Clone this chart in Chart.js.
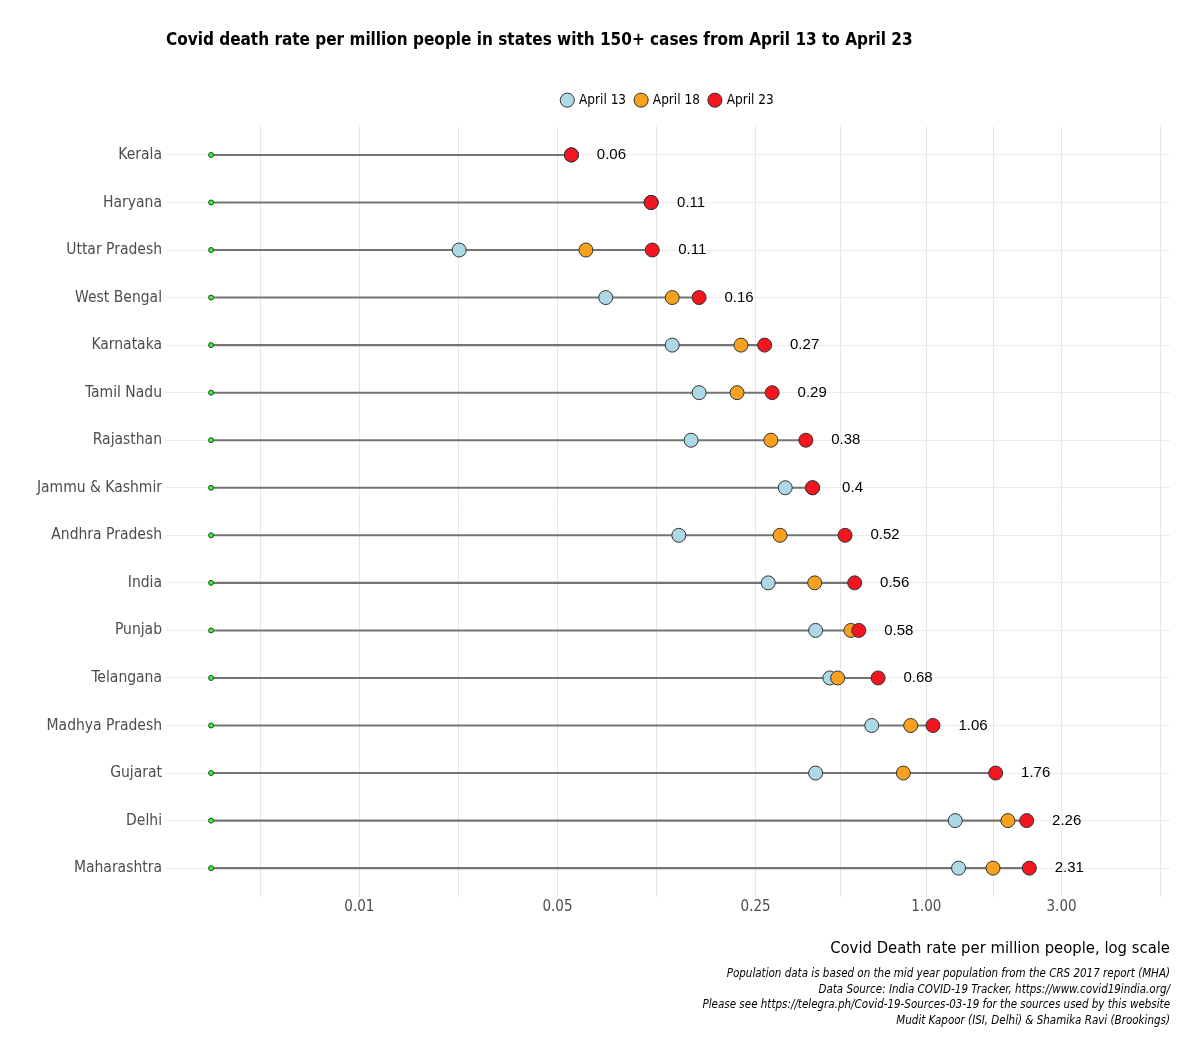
<!DOCTYPE html>
<html>
<head>
<meta charset="utf-8">
<script src="https://cdn.jsdelivr.net/npm/chart.js@4.4.1/dist/chart.umd.min.js"></script>
<style>
  html, body { margin: 0; padding: 0; background: #fff; }
  canvas { display: block; }
</style>
</head>
<body>
<canvas id="chart" width="1200" height="1057"></canvas>
<script>
const states = ['Kerala', 'Haryana', 'Uttar Pradesh', 'West Bengal', 'Karnataka', 'Tamil Nadu', 'Rajasthan',
  'Jammu & Kashmir', 'Andhra Pradesh', 'India', 'Punjab', 'Telangana', 'Madhya Pradesh', 'Gujarat', 'Delhi', 'Maharashtra'];
const april13 = [0.056, 0.107, 0.0225, 0.074, 0.127, 0.158, 0.148, 0.318, 0.134, 0.277, 0.407, 0.457, 0.642, 0.407, 1.265, 1.30];
const april18 = [0.056, 0.107, 0.063, 0.127, 0.222, 0.215, 0.283, 0.397, 0.305, 0.404, 0.542, 0.487, 0.881, 0.830, 1.94, 1.72];
const april23 = [0.056, 0.107, 0.108, 0.158, 0.269, 0.286, 0.376, 0.397, 0.517, 0.559, 0.578, 0.676, 1.056, 1.757, 2.26, 2.31];
const baseline = 0.003;   // where every segment starts (green dot)

const majorTicks = [0.01, 0.05, 0.25, 1, 3];
const majorTickLabels = ['0.01', '0.05', '0.25', '1.00', '3.00'];
const minorTicks = [0.00447, 0.0224, 0.112, 0.5, 1.73, 6.71];

const captionLines = [
  'Population data is based on the mid year population from the CRS 2017 report (MHA)',
  'Data Source: India COVID-19 Tracker, https://www.covid19india.org/',
  'Please see https://telegra.ph/Covid-19-Sources-03-19 for the sources used by this website',
  'Mudit Kapoor (ISI, Delhi) & Shamika Ravi (Brookings)'
];

const narrow = "'Liberation Sans Narrow', 'DejaVu Sans Condensed', Roboto, sans-serif";

// value labels to the right of the April 23 dot
const valueLabels = {
  id: 'valueLabels',
  afterDatasetsDraw(chart) {
    const meta = chart.getDatasetMeta(2);
    const ctx = chart.ctx;
    ctx.save();
    ctx.font = "15px 'Liberation Sans', Arial, sans-serif";
    ctx.fillStyle = '#000';
    ctx.textAlign = 'center';
    ctx.textBaseline = 'middle';
    meta.data.forEach((pt, i) => {
      ctx.fillText(String(Math.round(april23[i] * 100) / 100), pt.x + 40, pt.y);
    });
    ctx.restore();
  }
};

// a bit of room between the legend and the panel
const legendGap = {
  id: 'legendGap',
  beforeLayout(chart) {
    const lg = chart.legend;
    if (lg && !lg._gapPatched) {
      const fit = lg.fit;
      lg.fit = function () { fit.call(this); this.height += 9.5; };
      lg._gapPatched = true;
    }
  }
};

const pointStyle = { borderColor: '#333333', borderWidth: 1, pointRadius: 7 };

new Chart(document.getElementById('chart'), {
  type: 'scatter',
  data: {
    datasets: [
      { label: 'April 13', data: april13.map((v, i) => ({ x: v, y: i })), backgroundColor: '#add8e6', order: 3, ...pointStyle },
      { label: 'April 18', data: april18.map((v, i) => ({ x: v, y: i })), backgroundColor: '#f8a11f', order: 2, ...pointStyle },
      { label: 'April 23', data: april23.map((v, i) => ({ x: v, y: i })), backgroundColor: '#f3161f', order: 1, ...pointStyle },
      {
        label: 'start', data: states.map((s, i) => ({ x: baseline, y: i })),
        backgroundColor: '#3cf03c', borderColor: '#1b4d1b', borderWidth: 1, pointRadius: 2.5, order: 4
      },
      {
        type: 'bar', label: 'range', indexAxis: 'y',
        data: april23.map((v, i) => ({ y: i, x: [baseline, v] })),
        backgroundColor: '#747474', borderWidth: 0, barThickness: 1.4, order: 5
      }
    ]
  },
  options: {
    responsive: false,
    animation: false,
    events: [],
    layout: { padding: { top: 0, right: 30, bottom: 28, left: 0 } },
    scales: {
      x: {
        type: 'logarithmic',
        min: 0.00208,
        max: 7.24,
        afterBuildTicks: scale => {
          scale.ticks = [...minorTicks, ...majorTicks].sort((a, b) => a - b).map(v => ({ value: v }));
        },
        ticks: {
          autoSkip: false, maxRotation: 0, padding: 1, color: '#4d4d4d',
          font: { family: narrow, size: 15 },
          callback: v => {
            const i = majorTicks.indexOf(v);
            return i >= 0 ? majorTickLabels[i] : '';
          }
        },
        grid: { drawTicks: false, color: '#e6e6e6', lineWidth: 1 },
        border: { display: false },
        title: {
          display: true, text: 'Covid Death rate per million people, log scale', align: 'end',
          color: '#000', font: { family: narrow, size: 16.5 }, padding: { top: 22, bottom: 4 }
        }
      },
      y: {
        type: 'linear',
        reverse: true,
        offset: false,
        min: -0.6,
        max: states.length - 0.4,
        afterBuildTicks: scale => { scale.ticks = states.map((s, i) => ({ value: i })); },
        afterFit: scale => { scale.width = 166; },
        ticks: {
          autoSkip: false, padding: 4, color: '#4d4d4d',
          font: { family: narrow, size: 15.5 },
          callback: v => states[v]
        },
        grid: { drawTicks: false, offset: false, color: '#ebebeb', lineWidth: 1 },
        border: { display: false }
      }
    },
    plugins: {
      title: {
        display: true, align: 'start', fullSize: false,
        text: 'Covid death rate per million people in states with 150+ cases from April 13 to April 23',
        color: '#000', font: { family: narrow, size: 17, weight: 'bold' },
        padding: { top: 30, bottom: 33 }
      },
      subtitle: {
        display: true, position: 'bottom', align: 'end', fullSize: false,
        text: captionLines, color: '#000',
        font: { family: narrow, size: 11.5, style: 'italic', lineHeight: 1.37 },
        padding: { top: 3.5, bottom: 0 }
      },
      legend: {
        position: 'top', fullSize: false,
        labels: {
          usePointStyle: true, pointStyle: 'circle', boxWidth: 10, boxHeight: 10, padding: 10,
          color: '#000', font: { family: narrow, size: 13.5 },
          filter: item => item.datasetIndex < 3,
          sort: (a, b) => a.datasetIndex - b.datasetIndex
        }
      },
      tooltip: { enabled: false }
    }
  },
  plugins: [valueLabels, legendGap]
});
</script>
</body>
</html>
